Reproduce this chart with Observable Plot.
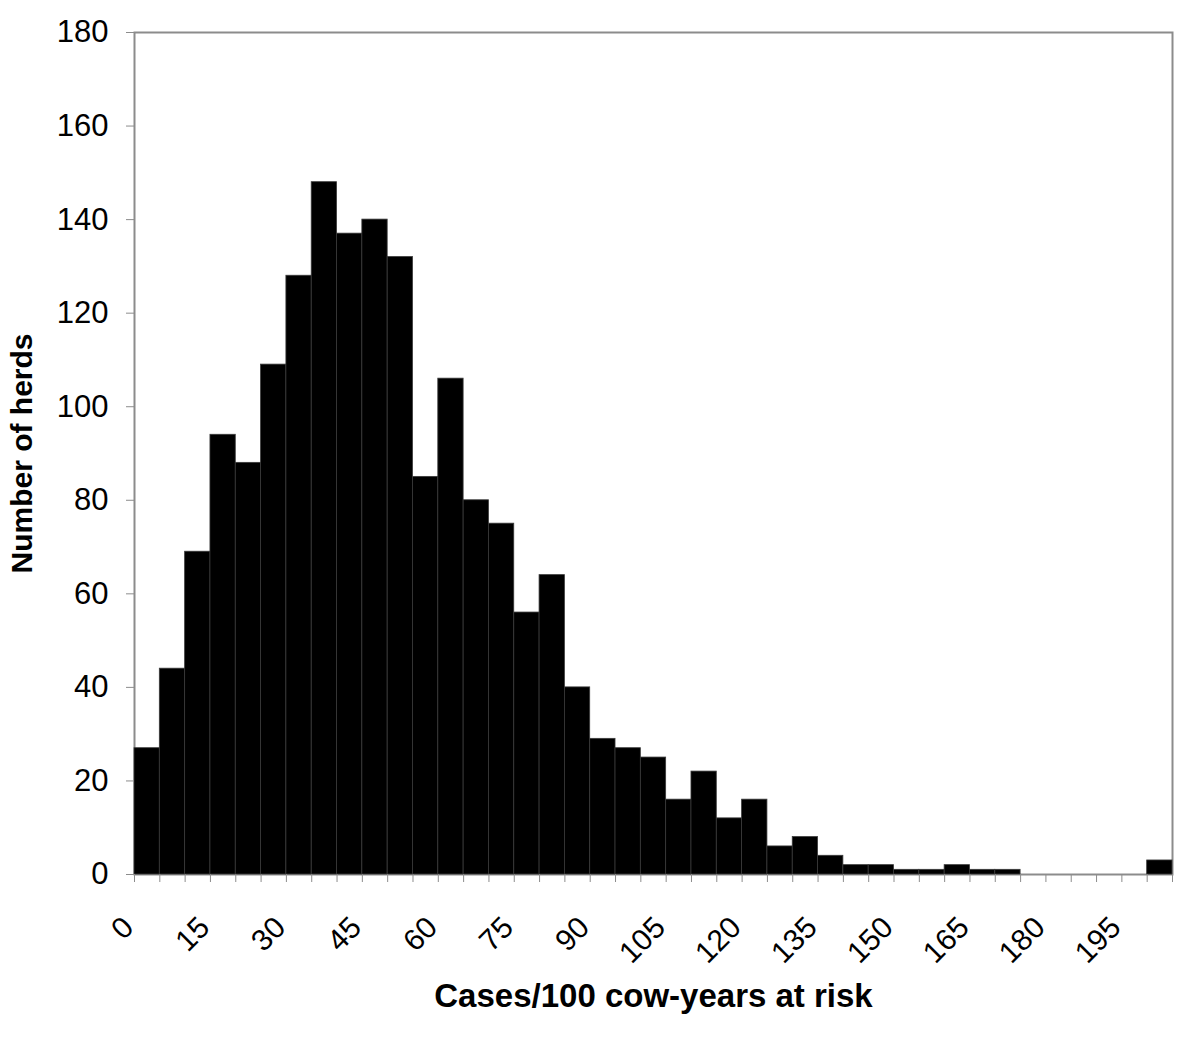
<!DOCTYPE html>
<html>
<head>
<meta charset="utf-8">
<script src="https://cdn.jsdelivr.net/npm/d3@7"></script>
<script src="https://cdn.jsdelivr.net/npm/@observablehq/plot@0.6"></script>
<style>
  html, body { margin: 0; padding: 0; background: #fff; }
  #chart { width: 1200px; height: 1039px; }
</style>
</head>
<body>
<div id="chart"></div>
<script>
// Bin lower edges (cases/100 cow-years at risk), bin width 5
const binStarts = [0,5,10,15,20,25,30,35,40,45,50,55,60,65,70,75,80,85,90,95,100,105,110,115,120,125,130,135,140,145,150,155,160,165,170,175,180,185,190,195,200];
const binWidth = 5;
// Number of herds per bin
const herdCounts = [27,44,69,94,88,109,128,148,137,140,132,85,106,80,75,56,64,40,29,27,25,16,22,12,16,6,8,4,2,2,1,1,2,1,1,0,0,0,0,0,3];
// Axis ticks
const xTickEdges = [0,5,10,15,20,25,30,35,40,45,50,55,60,65,70,75,80,85,90,95,100,105,110,115,120,125,130,135,140,145,150,155,160,165,170,175,180,185,190,195,200,205];
const xTickLabels = [0,15,30,45,60,75,90,105,120,135,150,165,180,195];
const yTicks = [0,20,40,60,80,100,120,140,160,180];
const xTitle = "Cases/100 cow-years at risk";
const yTitle = "Number of herds";

const bins = binStarts.map((s, i) => ({x0: s, x1: s + binWidth, count: herdCounts[i]}));

const chart = Plot.plot({
  width: 1200,
  height: 1039,
  marginLeft: 134,
  marginRight: 28,
  marginTop: 32,
  marginBottom: 165,
  style: {fontFamily: "'Liberation Sans', Arial, sans-serif", fontSize: "31px", background: "#fff", color: "#000", overflow: "visible"},
  x: {domain: [0, 205], axis: null},
  y: {domain: [0, 180], axis: null},
  marks: [
    Plot.frame({stroke: "#8c8c8c", strokeWidth: 2}),
    Plot.rectY(bins, {x1: "x0", x2: "x1", y: "count", fill: "#000", stroke: "#3a3a3a", strokeWidth: 0.8}),
    Plot.axisY({ticks: yTicks, tickSize: 8, tickPadding: 18, fontSize: 31, stroke: "#8c8c8c", label: null}),
    Plot.axisX({ticks: xTickEdges, tickSize: 8, tickFormat: () => "", stroke: "#8c8c8c", label: null}),
    Plot.axisX({ticks: xTickLabels, tickSize: 0, tickRotate: -45, tickPadding: 48, dx: -6, fontSize: 30, label: null}),
    Plot.text([xTitle], {frameAnchor: "bottom", text: d => d, lineAnchor: "middle", dy: 122, fontWeight: "bold", fontSize: 33}),
    Plot.text([yTitle], {frameAnchor: "left", text: d => d, textAnchor: "middle", lineAnchor: "middle", rotate: -90, dx: -112, fontWeight: "bold", fontSize: 30})
  ]
});
document.getElementById("chart").appendChild(chart);
</script>
</body>
</html>
